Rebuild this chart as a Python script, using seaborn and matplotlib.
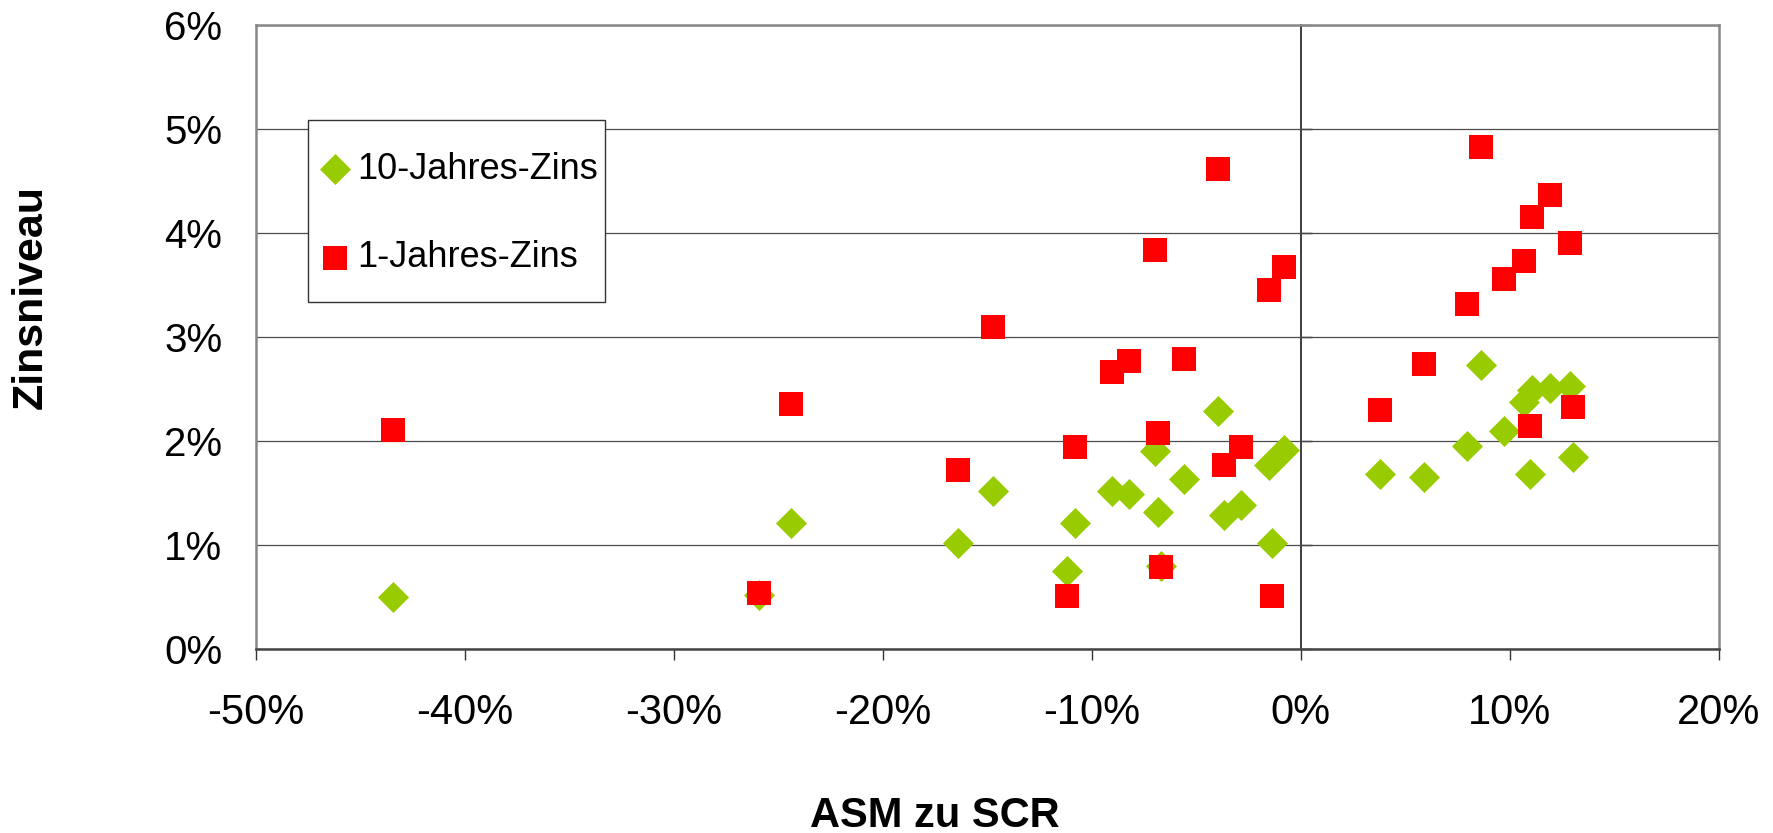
import matplotlib
matplotlib.use("Agg")
import matplotlib.pyplot as plt
import numpy as np
import pandas as pd
import seaborn as sns
from matplotlib.patches import Rectangle
from matplotlib.ticker import FuncFormatter

# ASM-to-SCR ratio (in %) for each observation
asm_scr = [-43.42, -25.91, -24.40, -16.38, -14.74, -11.19, -10.79, -9.01, -8.19, -6.96,
           -6.83, -6.69, -5.60, -3.96, -3.69, -2.87, -1.50, -1.37, -0.82, 3.82,
           5.89, 7.94, 8.62, 9.73, 10.69, 10.96, 11.09, 11.92, 12.88, 13.01]
# 10-year interest rate level (in %)
zins_10 = [0.50, 0.52, 1.21, 1.02, 1.52, 0.75, 1.21, 1.52, 1.49, 1.90,
           1.32, 0.80, 1.63, 2.29, 1.29, 1.38, 1.77, 1.02, 1.91, 1.68,
           1.65, 1.95, 2.73, 2.10, 2.37, 1.68, 2.49, 2.51, 2.53, 1.85]
# 1-year interest rate level (in %)
zins_1 = [2.11, 0.54, 2.36, 1.72, 3.10, 0.51, 1.94, 2.66, 2.77, 3.84,
          2.08, 0.79, 2.79, 4.61, 1.77, 1.94, 3.45, 0.51, 3.67, 2.30,
          2.74, 3.32, 4.83, 3.56, 3.73, 2.14, 4.15, 4.36, 3.90, 2.33]

series_names = ["10-Jahres-Zins", "1-Jahres-Zins"]
x_ticks = [-50, -40, -30, -20, -10, 0, 10, 20]
y_ticks = [0, 1, 2, 3, 4, 5, 6]

df = pd.concat([
    pd.DataFrame({"ASM": asm_scr, "Zins": zins_10, "Serie": series_names[0]}),
    pd.DataFrame({"ASM": asm_scr, "Zins": zins_1, "Serie": series_names[1]}),
], ignore_index=True)

sns.set_theme(style="white")
plt.rcParams["font.family"] = ["Liberation Sans", "DejaVu Sans"]
plt.rcParams["text.color"] = "black"
plt.rcParams["xtick.color"] = "black"
plt.rcParams["ytick.color"] = "black"

W, H = 1773, 833
fig = plt.figure(figsize=(W / 100, H / 100), dpi=100)
ax = fig.add_axes([255.5 / W, 1 - 649 / H, (1718.7 - 255.5) / W, (649 - 24.9) / H])

palette = {series_names[0]: "#99CC00", series_names[1]: "#FF0000"}
markers = {series_names[0]: "D", series_names[1]: "s"}
sizes_pt = {series_names[0]: 250, series_names[1]: 290}

# green diamonds first so the red squares sit on top
for name in series_names:
    sub = df[df["Serie"] == name]
    sns.scatterplot(data=sub, x="ASM", y="Zins", color=palette[name],
                    marker=markers[name], s=sizes_pt[name], linewidth=0,
                    ax=ax, label=name, zorder=3)

ax.set_xlim(-50, 20)
ax.set_ylim(0, 6)
ax.set_xticks(x_ticks)
ax.set_yticks(y_ticks)
pct = FuncFormatter(lambda v, _: f"{v:.0f}%")
ax.xaxis.set_major_formatter(pct)
ax.yaxis.set_major_formatter(pct)
ax.tick_params(axis="x", direction="out", length=8, width=1, color="#333333",
               pad=24, labelsize=30, bottom=True, labelcolor="black")
ax.tick_params(axis="y", length=0, pad=24, labelsize=29, labelcolor="black")

ax.grid(axis="y", color="#4d4d4d", linewidth=0.9)
ax.grid(axis="x", visible=False)
for side in ["left", "right", "top"]:
    ax.spines[side].set_color("#888888")
    ax.spines[side].set_linewidth(1.8)
ax.spines["bottom"].set_color("#444444")
ax.spines["bottom"].set_linewidth(1.8)

# vertical value axis crossing at ASM = 0 %
cross = ax.secondary_yaxis((0 - (-50)) / 70)
cross.set_yticks(y_ticks)
cross.tick_params(axis="y", direction="out", length=8, width=1, color="black",
                  labelleft=False, labelright=False)
cross.spines["left"].set_color("black")
cross.spines["left"].set_linewidth(1.0)
cross.set_ylabel("")

ax.set_xlabel("")
ax.set_ylabel("")
fig.text(935 / W, 1 - 816 / H, "ASM zu SCR", ha="center", va="center",
         fontsize=30, fontweight="bold")
fig.text(31 / W, 1 - 297 / H, "Zinsniveau", ha="center", va="center",
         rotation=90, fontsize=31, fontweight="bold")

# legend box: framed panel with the two series entries
ax.add_patch(Rectangle((307.5 / W, 1 - 302 / H), (604.5 - 307.5) / W, (302 - 120) / H,
                       transform=fig.transFigure, facecolor="white",
                       edgecolor="#333333", linewidth=1.0, zorder=4, clip_on=False))
handles, labels = ax.get_legend_handles_labels()
leg = ax.legend(handles, labels, loc="center left",
                bbox_to_anchor=(317 / W, 1 - 213.5 / H),
                bbox_transform=fig.transFigure, borderaxespad=0, borderpad=0,
                fontsize=26, frameon=False, labelspacing=1.48,
                handletextpad=0.11, handlelength=1.0, markerscale=1.0)
leg.set_zorder(5)

fig.savefig("out.png", dpi=100)
